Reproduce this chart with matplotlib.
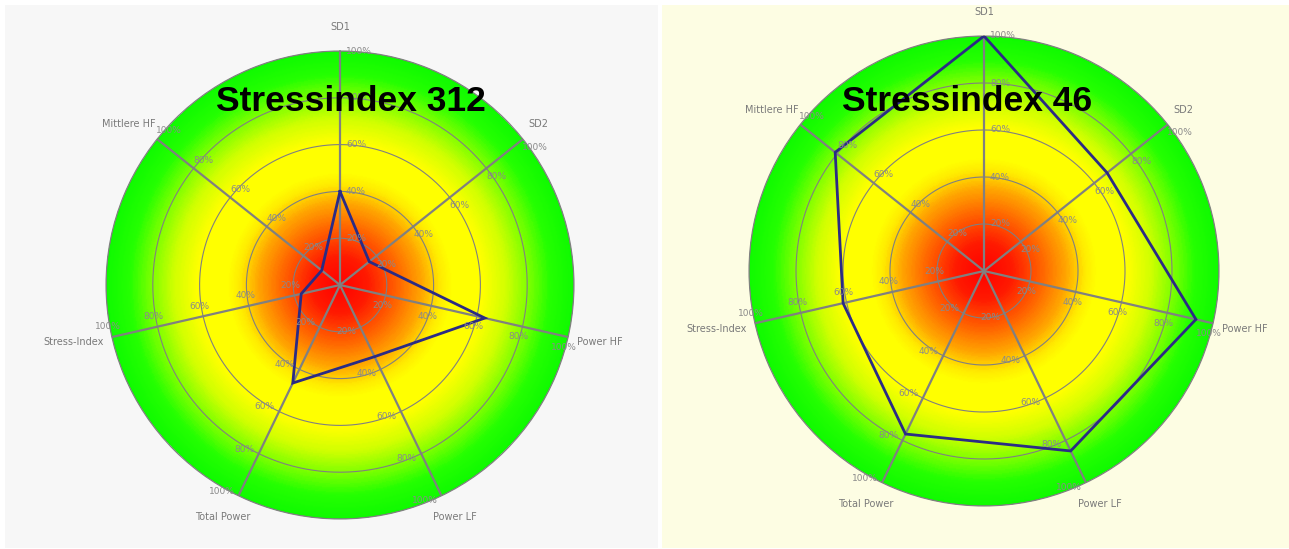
import numpy as np
import matplotlib
matplotlib.use("Agg")
import matplotlib.pyplot as plt
from matplotlib.colors import LinearSegmentedColormap
from matplotlib.patches import Rectangle

# ---------------- data ----------------
axis_labels = ["SD1", "SD2", "Power HF", "Power LF", "Total Power", "Stress-Index", "Mittlere HF"]
values_left = [40, 16, 63.5, 34, 46.5, 17, 10]
values_right = [100, 67, 92.5, 85, 77, 61.5, 81]
tick_values = [20, 40, 60, 80, 100]
tick_labels = ["20%", "40%", "60%", "80%", "100%"]
title_left = "Stressindex 312"
title_right = "Stressindex 46"

# ---------------- layout / style ----------------
W, H, DPI = 1289, 549, 100
fig = plt.figure(figsize=(W / DPI, H / DPI), dpi=DPI, facecolor="white")

grad_stops = [
    (0.00, (1.00, 0.00, 0.00)),
    (0.12, (1.00, 0.10, 0.00)),
    (0.25, (1.00, 0.40, 0.00)),
    (0.35, (1.00, 0.65, 0.00)),
    (0.43, (1.00, 0.92, 0.00)),
    (0.48, (1.00, 1.00, 0.00)),
    (0.61, (1.00, 1.00, 0.00)),
    (0.71, (0.82, 1.00, 0.00)),
    (0.81, (0.48, 1.00, 0.00)),
    (0.90, (0.14, 1.00, 0.00)),
    (1.00, (0.06, 0.98, 0.00)),
]
cmap = LinearSegmentedColormap.from_list("stress", grad_stops)

GRID = "#808080"
TICK_C = "#8a8a8a"
LABEL_C = "#7a7a7a"
LINE_C = "#2b2b85"

def frac_rect(x0, y0, x1, y1):
    return [x0 / W, 1 - y1 / H, (x1 - x0) / W, (y1 - y0) / H]

# panel backgrounds
for x0, y0, x1, y1, c in [(5, 5, 658, 548, "#f7f7f7"), (662, 5, 1289, 548, "#fdfde3")]:
    fig.add_artist(Rectangle((x0 / W, 1 - y1 / H), (x1 - x0) / W, (y1 - y0) / H,
                             transform=fig.transFigure, facecolor=c,
                             edgecolor="none", zorder=-5))

n = len(axis_labels)
theta_axes = 2 * np.pi * np.arange(n) / n
placements = []


def radar(cx, cy, R, values, title, title_x):
    ax = fig.add_axes(frac_rect(cx - R, cy - R, cx + R, cy + R), projection="polar")
    ax.set_theta_offset(np.pi / 2)
    ax.set_theta_direction(-1)
    ax.set_ylim(0, 100)
    ax.set_facecolor("none")
    ax.grid(False)
    ax.set_xticks([])
    ax.set_yticks([])
    ax.spines["polar"].set_color(GRID)
    ax.spines["polar"].set_linewidth(0.8)

    # radial gradient
    th = np.linspace(0, 2 * np.pi, 361)
    rr = np.linspace(0, 100, 201)
    mid = (rr[:-1] + rr[1:]) / 2
    C = np.repeat(mid[:, None], len(th) - 1, axis=1)
    ax.pcolormesh(th, rr, C, cmap=cmap, vmin=0, vmax=100, shading="flat",
                  antialiased=False, edgecolors="none", zorder=1)

    # grid circles
    circ = np.linspace(0, 2 * np.pi, 500)
    for v in tick_values:
        ax.plot(circ, np.full_like(circ, v), color=GRID, lw=0.8, zorder=2)
    # spokes
    for t in theta_axes:
        ax.plot([t, t], [0, 100], color=GRID, lw=1.6, zorder=3,
                solid_capstyle="butt")

    # data polygon
    vals = list(values) + [values[0]]
    ths = list(theta_axes) + [theta_axes[0]]
    ax.plot(ths, vals, color=LINE_C, lw=2.0, zorder=6, solid_joinstyle="miter")

    # tick labels on each axis
    for t in theta_axes:
        tm = np.pi / 2 - t
        perp = (np.sin(tm), -np.cos(tm))
        for v, lab in zip(tick_values, tick_labels):
            a = ax.annotate(lab, xy=(t, v), xycoords="data", xytext=(0, 0),
                            textcoords="offset pixels", ha="center", va="center",
                            fontsize=6.5, color=TICK_C, zorder=7,
                            annotation_clip=False)
            placements.append((a, "tick", perp, R))

    # axis labels
    for t, lab in zip(theta_axes, axis_labels):
        tm = np.pi / 2 - t
        a = ax.annotate(lab, xy=(t, 100), xycoords="data", xytext=(0, 0),
                        textcoords="offset pixels", ha="center", va="center",
                        fontsize=7, color=LABEL_C, zorder=7,
                        annotation_clip=False)
        placements.append((a, "label", (np.cos(tm), np.sin(tm)), R))

    fig.text(title_x / W, 1 - 111 / H, title, ha="center", va="baseline",
             fontsize=25.5, fontweight="bold", family="Liberation Sans",
             color="black", zorder=20)
    return ax


radar(340, 285, 234, values_left, title_left, 351)
radar(984, 271, 235, values_right, title_right, 967)

# position texts relative to their anchor using their measured size
fig.canvas.draw()
renderer = fig.canvas.get_renderer()
for a, kind, vec, R in placements:
    bb = a.get_window_extent(renderer)
    w, h = bb.width, bb.height
    if kind == "tick":
        d = 6
        dx = vec[0] * (d + w / 2)
        dy = vec[1] * (d + h / 2)
    else:
        dx = vec[0] * (0.04 * R + w / 2)
        dy = vec[1] * (0.08 * R + h / 2)
    a.set_position((dx, dy))

fig.savefig("out.png", dpi=DPI, facecolor="white")
